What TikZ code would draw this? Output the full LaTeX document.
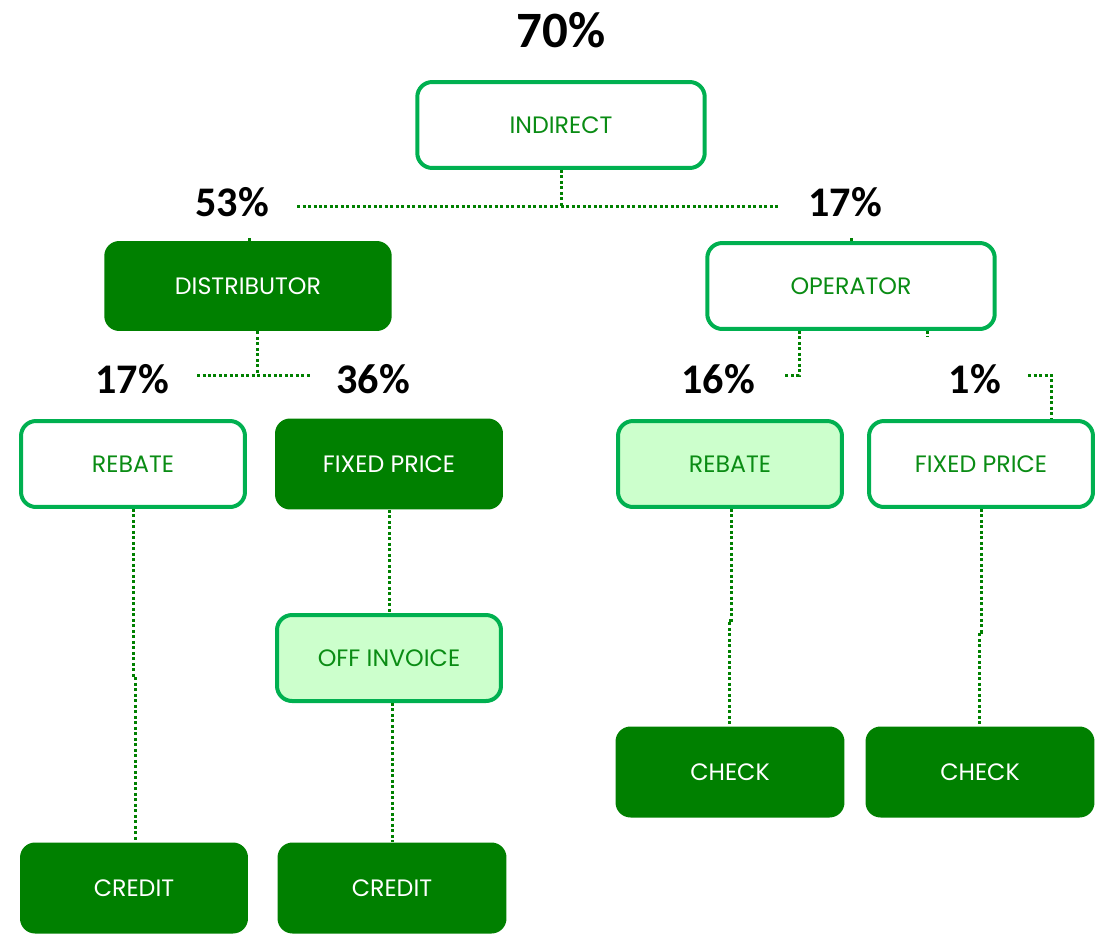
\documentclass[tikz,border=0pt]{standalone}
\usepackage{fontspec}
\setmainfont{Carlito}
\newfontfamily\boxfont{Poppins}
\definecolor{dkgreen}{RGB}{0,128,0}
\definecolor{brgreen}{RGB}{0,176,80}
\definecolor{ltgreen}{RGB}{204,255,204}
\definecolor{txgreen}{RGB}{10,140,20}
\begin{document}
\begin{tikzpicture}[x=0.02cm,y=-0.02cm,
  base/.style={rounded corners=0.3cm, minimum height=1.72cm, minimum width=4.48cm, font=\boxfont\fontsize{13.5}{16}\selectfont, inner sep=0pt},
  outl/.style={base, draw=brgreen, line width=0.08cm, fill=white, text=txgreen},
  lite/.style={base, draw=brgreen, line width=0.08cm, fill=ltgreen, text=txgreen},
  dark/.style={base, fill=dkgreen, text=white},
  wide/.style={minimum width=5.75cm},
  pct/.style={font=\bfseries\fontsize{24}{28}\selectfont, text=black},
  conn/.style={draw=dkgreen, line width=0.06cm, dash pattern=on 0.06cm off 0.05cm}
]
\useasboundingbox (0,0) rectangle (1112,933);
% boxes
\node[outl, wide] (ind) at (561,125) {INDIRECT};
\node[dark, wide, minimum height=1.8cm] (dist) at (248,286) {DISTRIBUTOR};
\node[outl, wide] (oper) at (851,286) {OPERATOR};
\node[outl] (rebL) at (133,464) {REBATE};
\node[dark, minimum height=1.82cm, minimum width=4.56cm] (fixL) at (389,464) {FIXED PRICE};
\node[lite] (offinv) at (389,658) {OFF INVOICE};
\node[dark, minimum height=1.82cm, minimum width=4.56cm] (credL) at (134,888) {CREDIT};
\node[dark, minimum height=1.82cm, minimum width=4.58cm] (credR) at (392,888) {CREDIT};
\node[lite] (rebR) at (730,464) {REBATE};
\node[outl] (fixR) at (981,464) {FIXED PRICE};
\node[dark, minimum height=1.82cm, minimum width=4.58cm] (chkL) at (730,772) {CHECK};
\node[dark, minimum height=1.82cm, minimum width=4.58cm] (chkR) at (980,772) {CHECK};
% percentages
\node[pct, font=\bfseries\fontsize{29}{33}\selectfont] (p70) at (561,30) {70\%};
\node[pct] (p53) at (232,202) {53\%};
\node[pct] (p17a) at (845,202) {17\%};
\node[pct] (p17b) at (132,379) {17\%};
\node[pct] (p36) at (373,379) {36\%};
\node[pct] (p16) at (718,379) {16\%};
\node[pct] (p1) at (975,379) {1\%};
% connector coordinates
\coordinate (h1l) at (297,206);
\coordinate (h1r) at (780,206);
\coordinate (h1m) at (561,206);
\coordinate (h2l) at (197,375);
\coordinate (h2r) at (310,375);
\coordinate (h2m) at (257,375);
\coordinate (h3) at (784,375);
\coordinate (h4) at (1028,375);
% connectors
\draw[conn] (ind.south) -- (h1m);
\draw[conn] (h1l) -- (h1r);
\draw[conn] (dist.south -| h2m) -- (h2m);
\draw[conn] (h2l) -- (h2r);
\draw[conn] (oper.south -| 799,0) -- (799,375) -- (h3);
\draw[conn] (h4) -- (1051,375) -- (fixR.north -| 1051,0);
\draw[conn] (rebL.south) -- (133,675) -- (135,675) -- (credL.north -| 135,0);
\draw[conn] (fixL.south) -- (offinv.north);
\draw[conn] (offinv.south -| 392,0) -- (credR.north);
\draw[conn] (rebR.south -| 731,0) -- (731,620) -- (729,620) -- (chkL.north -| 729,0);
\draw[conn] (fixR.south) -- (981,632) -- (979,632) -- (chkR.north -| 979,0);
% small stubs
\draw[conn] (dist.north -| 249,0) -- ++(0,-3);
\draw[conn] (oper.north -| 851,0) -- ++(0,-3);
\draw[conn] (oper.south -| 927,0) -- ++(0,6);
\end{tikzpicture}
\end{document}
